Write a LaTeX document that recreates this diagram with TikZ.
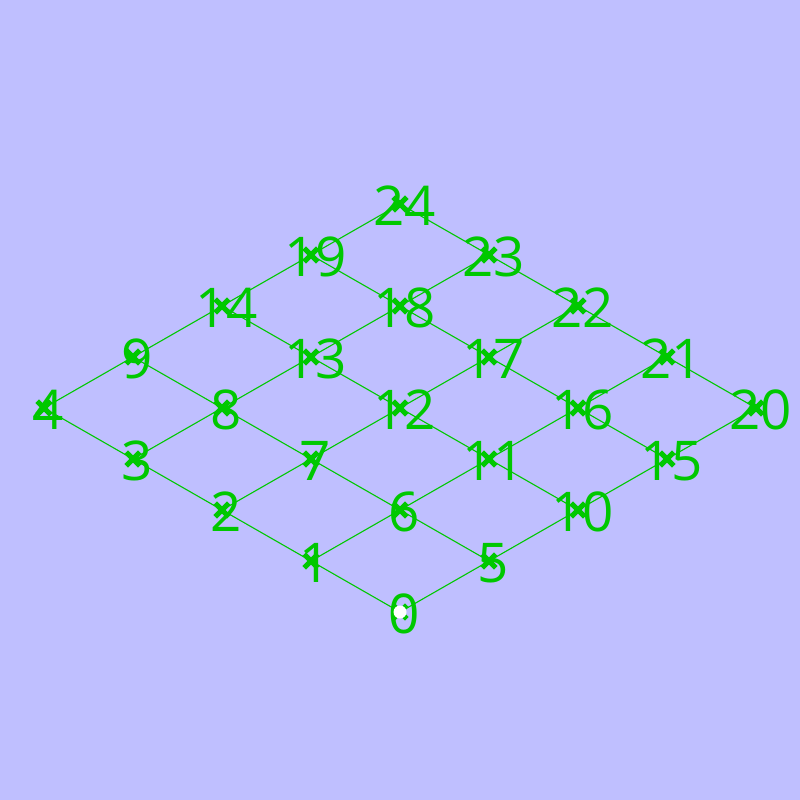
\documentclass[tikz,border=0pt]{standalone}
\usepackage{fontspec}
\setmainfont{Open Sans}
\definecolor{bg}{RGB}{191,191,255}
\definecolor{gr}{RGB}{0,200,0}
\begin{document}
\begin{tikzpicture}[x=1bp,y=-1bp,
  gridline/.style={draw=gr,line width=1.1bp},
  xmark/.style={draw=gr,line width=5bp},
  lbl/.style={text=gr,inner sep=0pt,anchor=center,font=\fontsize{55}{57}\selectfont}]
\fill[bg] (0,0) rectangle (800,800);
\useasboundingbox (0,0) rectangle (800,800);
\foreach \a in {0,...,4}{
  \foreach \b in {0,...,4}{
    \pgfmathtruncatemacro{\k}{\a+5*\b}
    \coordinate (n\k) at ({400-89*\a+89*\b},{612-51*\a-51*\b});
  }
}
% grid lines
\foreach \a in {0,...,4}{
  \pgfmathtruncatemacro{\s}{\a}
  \pgfmathtruncatemacro{\e}{\a+20}
  \draw[gridline] (n\s) -- (n\e);
}
\foreach \b in {0,...,4}{
  \pgfmathtruncatemacro{\s}{5*\b}
  \pgfmathtruncatemacro{\e}{5*\b+4}
  \draw[gridline] (n\s) -- (n\e);
}
% labels
\foreach \k in {0,...,24}{
  \node[lbl] (l\k) at ([shift={(4.5,2)}]n\k) {\k};
}
% markers
\foreach \k in {0,...,24}{
  \draw[xmark] ([shift={(-6.8,-6.8)}]n\k) -- ([shift={(6.8,6.8)}]n\k);
  \draw[xmark] ([shift={(-6.8,6.8)}]n\k) -- ([shift={(6.8,-6.8)}]n\k);
}
\fill[white] (n0) circle (6.5);
\end{tikzpicture}
\end{document}
